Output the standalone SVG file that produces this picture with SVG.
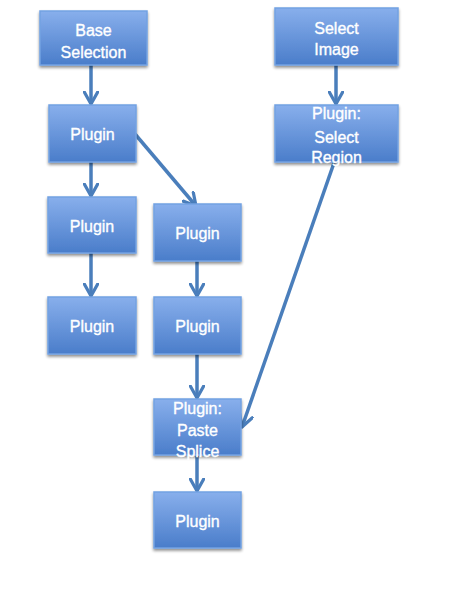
<svg xmlns="http://www.w3.org/2000/svg" width="469" height="592" viewBox="0 0 469 592">
<defs>
<linearGradient id="g" x1="0" y1="0" x2="0" y2="1">
<stop offset="0" stop-color="#88afec"/>
<stop offset="1" stop-color="#4a7dca"/>
</linearGradient>
<filter id="sh" x="-20%" y="-20%" width="140%" height="150%">
<feGaussianBlur in="SourceAlpha" stdDeviation="1.5"/>
<feOffset dx="0" dy="2" result="b"/>
<feComponentTransfer><feFuncA type="linear" slope="0.45"/></feComponentTransfer>
<feMerge><feMergeNode/><feMergeNode in="SourceGraphic"/></feMerge>
</filter>
<marker id="ah" viewBox="0 0 12 12" refX="10" refY="6" markerWidth="4.6" markerHeight="4.6" markerUnits="strokeWidth" orient="auto">
<path d="M1,1 L10,6 L1,11" fill="none" stroke="#4a7ebb" stroke-width="2.4" stroke-linecap="round" stroke-linejoin="round"/>
</marker>
</defs>
<style>
.box{fill:url(#g);stroke:#73a2e2;stroke-width:1.5;filter:url(#sh)}
.t{font-family:"Liberation Sans",Arial,sans-serif;font-size:16px;fill:#ffffff;stroke:#ffffff;stroke-width:0.35;text-anchor:middle}
.c{stroke:#4a7ebb;stroke-width:3.5;fill:none;marker-end:url(#ah)}
</style>
<rect width="469" height="592" fill="#ffffff"/>
<g id="connectors">
<line class="c" x1="91" y1="65" x2="91" y2="104"/>
<line class="c" x1="91" y1="162" x2="91" y2="196"/>
<line class="c" x1="91" y1="253" x2="91" y2="296"/>
<line class="c" x1="135" y1="134" x2="196" y2="206"/>
<line class="c" x1="197" y1="261" x2="197" y2="296"/>
<line class="c" x1="197" y1="354" x2="197" y2="398"/>
<line class="c" x1="197" y1="455" x2="197" y2="491"/>
<line class="c" x1="336" y1="65" x2="336" y2="104"/>
<line class="c" x1="335" y1="160" x2="242" y2="427"/>
</g>
<g id="base-selection">
<rect class="box" x="40" y="11" width="107" height="54"/>
<text class="t" x="93.5" y="36">Base</text>
<text class="t" x="93.5" y="58">Selection</text>
</g>
<g id="plugin-1">
<rect class="box" x="49" y="105" width="87" height="57"/>
<text class="t" x="92.5" y="140">Plugin</text>
</g>
<g id="plugin-2">
<rect class="box" x="48" y="197" width="88" height="56"/>
<text class="t" x="92" y="232">Plugin</text>
</g>
<g id="plugin-3">
<rect class="box" x="48" y="297" width="88" height="57"/>
<text class="t" x="92" y="332">Plugin</text>
</g>
<g id="plugin-4">
<rect class="box" x="154" y="204" width="87" height="57"/>
<text class="t" x="197.5" y="239">Plugin</text>
</g>
<g id="plugin-5">
<rect class="box" x="154" y="297" width="87" height="57"/>
<text class="t" x="197.5" y="332">Plugin</text>
</g>
<g id="paste-splice">
<rect class="box" x="154" y="399" width="87" height="56"/>
<text class="t" x="197.5" y="414">Plugin:</text>
<text class="t" x="197.5" y="436">Paste</text>
<text class="t" x="197.5" y="457">Splice</text>
</g>
<g id="plugin-6">
<rect class="box" x="154" y="492" width="87" height="56"/>
<text class="t" x="197.5" y="527">Plugin</text>
</g>
<g id="select-image">
<rect class="box" x="275" y="8" width="123" height="57"/>
<text class="t" x="336.5" y="34">Select</text>
<text class="t" x="336.5" y="55">Image</text>
</g>
<g id="select-region">
<rect class="box" x="275" y="105" width="123" height="57"/>
<text class="t" x="336.5" y="119">Plugin:</text>
<text class="t" x="336.5" y="143">Select</text>
<text class="t" x="336.5" y="163">Region</text>
</g>
</svg>
